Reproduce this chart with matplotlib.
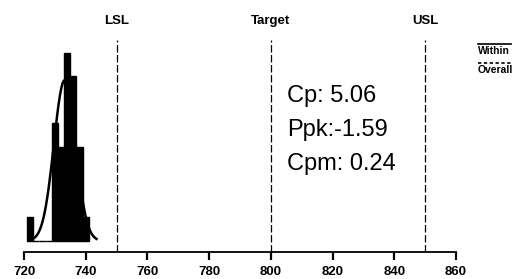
import numpy as np
import matplotlib
matplotlib.use('Agg')
import matplotlib.pyplot as plt
from matplotlib.lines import Line2D

plt.rcParams['font.family'] = ['Liberation Sans', 'DejaVu Sans']

# histogram data (bin width 2)
bin_left = [721, 723, 725, 727, 729, 731, 733, 735, 737, 739]
counts = [1, 0, 0, 0, 5, 4, 8, 7, 4, 1]
bin_w = 2

# fitted normal (within)
fit_mean = 733.2
fit_sd = 3.5
curve_from, curve_to = 723, 743.5

# spec limits
spec_x = [750, 800, 850]
spec_names = ['LSL', 'Target', 'USL']

stats_txt = ['Cp: 5.06', 'Ppk:-1.59', 'Cpm: 0.24']
xticks = [720, 740, 760, 780, 800, 820, 840, 860]

fig = plt.figure(figsize=(5.17, 2.79), dpi=100)
W, H = 517, 279
ax = fig.add_axes([24 / W, (H - 252) / H, (456 - 24) / W, 212 / H])

ax.bar(bin_left, counts, width=bin_w, align='edge', color='black',
       edgecolor='black', linewidth=1)

xs = np.linspace(curve_from, curve_to, 200)
n = sum(counts)
ys = n * bin_w / (fit_sd * np.sqrt(2 * np.pi)) * np.exp(-(xs - fit_mean) ** 2 / (2 * fit_sd ** 2))
ax.plot(xs, ys, color='black', lw=1.8)

for sx, nm in zip(spec_x, spec_names):
    ax.axvline(sx, color='black', lw=0.9, ls=(0, (6, 2)))
    ax.text(sx, 1.09, nm, transform=ax.get_xaxis_transform(), ha='center',
            va='center', fontsize=9.5, fontweight='bold')

ax.set_xlim(720, 860)
ax.set_ylim(-0.468, 8.55)
ax.set_xticks(xticks)
ax.set_yticks([])
for s in ['left', 'right', 'top']:
    ax.spines[s].set_visible(False)
ax.spines['bottom'].set_linewidth(1.3)
ax.tick_params(axis='x', direction='out', length=6, width=1.6, pad=4, labelsize=9.5)
for lab in ax.get_xticklabels():
    lab.set_fontweight('bold')

# capability indices
for i, t in enumerate(stats_txt):
    fig.text(287 / W, 1 - (102 + 34 * i) / H, t, fontsize=17, ha='left',
             va='baseline')

# legend in the corner
fig.add_artist(Line2D([478 / W, 511 / W], [1 - 44 / H, 1 - 44 / H],
                      color='black', lw=1.2))
fig.text(478 / W, 1 - 51 / H, 'Within', fontsize=7.5, ha='left', va='center',
         fontweight='bold')
fig.add_artist(Line2D([478 / W, 511 / W], [1 - 63 / H, 1 - 63 / H],
                      color='black', lw=1.2, ls=(0, (2, 1.5))))
fig.text(478 / W, 1 - 70 / H, 'Overall', fontsize=7.5, ha='left', va='center',
         fontweight='bold')

fig.savefig('out.png', dpi=100)
